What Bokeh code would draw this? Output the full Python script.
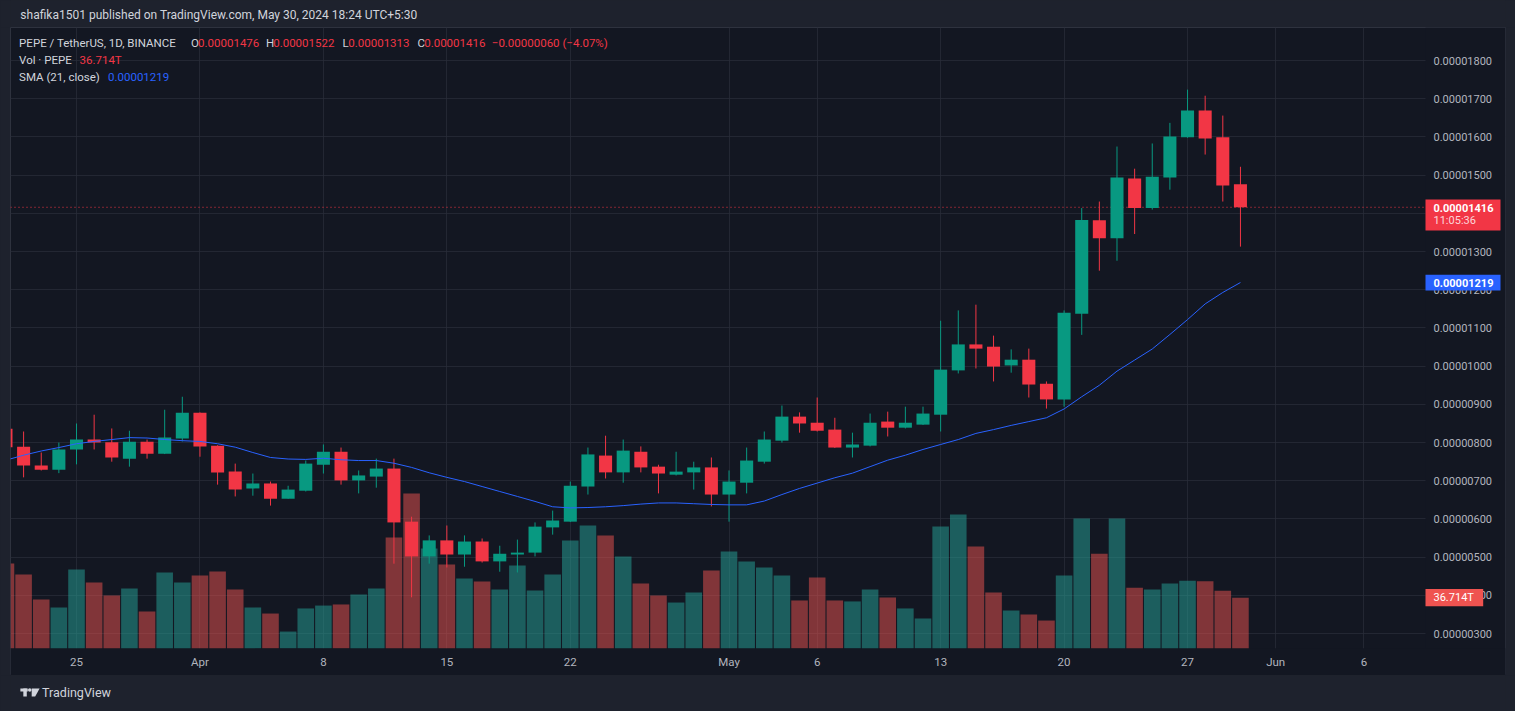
import numpy as np
import pandas as pd
from bokeh.plotting import figure
from bokeh.layouts import column
from bokeh.models import (Range1d, FixedTicker, PrintfTickFormatter, Label, Span,
                          BoxAnnotation, ColumnDataSource)
from bokeh.embed import file_html
from bokeh.resources import INLINE

# ---------------- data (prices in units of 1e-8 USDT) ----------------
dates = pd.date_range("2024-03-21", "2024-05-30", freq="D")
open_ = [836, 789, 740, 729, 782, 808, 801, 758, 802, 771, 811, 878, 792, 724, 680, 693, 653, 674, 742, 776,
         701, 711, 732, 593, 502, 544, 507, 541, 489, 507, 512, 578, 593, 685, 766, 722, 776, 737, 716, 722,
         735, 664, 695, 750, 805, 868, 852, 834, 787, 792, 855, 839, 847, 873, 989, 1057, 1051, 1002, 1017, 954,
         913, 1137, 1382, 1335, 1491, 1414, 1494, 1599, 1669, 1599, 1476]
high = [845, 829, 774, 800, 850, 873, 837, 831, 808, 886, 920, 879, 793, 745, 719, 698, 687, 753, 795, 787,
        727, 758, 758, 606, 557, 583, 557, 549, 530, 546, 591, 622, 698, 787, 818, 808, 790, 742, 776, 750,
        761, 727, 787, 829, 897, 879, 918, 865, 826, 876, 881, 894, 894, 1119, 1146, 1161, 1080, 1044, 1046, 960,
        1146, 1414, 1431, 1575, 1517, 1583, 1637, 1724, 1708, 1656, 1522]
low = [782, 709, 727, 720, 743, 782, 750, 737, 758, 770, 803, 763, 690, 659, 661, 635, 653, 672, 719, 690,
       667, 682, 483, 395, 483, 473, 475, 486, 462, 460, 502, 559, 592, 664, 706, 695, 722, 667, 714, 677,
       633, 593, 667, 745, 800, 826, 829, 786, 761, 790, 816, 837, 846, 829, 981, 994, 960, 983, 918, 889,
       894, 1082, 1250, 1276, 1346, 1410, 1462, 1598, 1554, 1431, 1313]
close = [788, 740, 729, 782, 808, 800, 761, 802, 771, 813, 878, 790, 722, 677, 693, 653, 677, 745, 776, 701,
         714, 732, 591, 502, 544, 507, 541, 489, 509, 512, 580, 596, 687, 769, 722, 779, 735, 719, 724, 735,
         664, 698, 753, 808, 868, 850, 831, 787, 795, 852, 839, 852, 876, 991, 1057, 1046, 999, 1017, 952, 913,
         1140, 1383, 1335, 1494, 1414, 1496, 1601, 1669, 1596, 1473, 1416]
volume_T = [61.6, 53.6, 35.4, 29.6, 57.2, 47.8, 38.3, 43.4, 26.7, 55.0, 47.8, 52.9, 55.8, 42.7, 29.6, 25.2,
            12.1, 28.9, 31.0, 31.8, 39.0, 43.4, 80.5, 112.5, 72.5, 60.8, 50.7, 48.5, 42.7, 60.1, 41.9, 53.6,
            78.3, 89.2, 81.9, 66.7, 47.0, 38.3, 33.2, 40.5, 56.5, 70.3, 63.0, 58.7, 52.9, 34.7, 51.4, 34.7,
            34.0, 42.7, 36.9, 28.9, 21.6, 88.5, 97.2, 73.9, 40.5, 27.4, 24.5, 20.1, 52.9, 94.3, 68.7, 94.3,
            44.0, 42.6, 47.0, 49.1, 48.6, 41.8, 36.714]
sma21 = [754, 767, 778, 787, 797, 803, 808, 813, 812, 808, 805, 803, 797, 788, 774, 761, 757, 756, 759, 755,
         753, 753, 746, 735, 721, 709, 698, 685, 672, 659, 646, 632, 629, 630, 632, 635, 639, 642, 642, 640,
         638, 637, 637, 647, 664, 680, 694, 708, 720, 737, 754, 767, 782, 795, 808, 824, 834, 845, 855, 865,
         888, 920, 950, 987, 1016, 1045, 1083, 1122, 1163, 1193, 1219]
price_ticks = [300, 400, 500, 600, 700, 800, 900, 1000, 1100, 1200, 1300, 1400, 1500, 1600, 1700, 1800]
time_tick_dates = ["2024-03-25", "2024-04-01", "2024-04-08", "2024-04-15", "2024-04-22", "2024-05-01",
                   "2024-05-06", "2024-05-13", "2024-05-20", "2024-05-27", "2024-06-01", "2024-06-06"]
time_tick_labels = ["25", "Apr", "8", "15", "22", "May", "6", "13", "20", "27", "Jun", "6"]

SC = 1e-8
# ---------------- styling ----------------
OUTER = "#1e222d"
PANE = "#131722"
GRID = "#2a2e39"
BORDER = "#2e323e"
TXT = "#d1d4dc"
AXT = "#b2b5be"
UP = "#089981"
DN = "#f23645"
VUP = "#26a69a"
VDN = "#ef5350"
FONT = "Roboto"
W = 1515

x = np.array([(d - dates[0]).days for d in dates], dtype=float)
o = np.array(open_) * SC
h = np.array(high) * SC
l = np.array(low) * SC
c = np.array(close) * SC
up = c >= o
src = ColumnDataSource(dict(
    x=x, o=o, h=h, l=l, c=c,
    top=np.maximum(o, c), bot=np.minimum(o, c),
    col=[UP if u else DN for u in up],
    vcol=[VUP if u else VDN for u in up],
    vol=volume_T, sma=np.array(sma21) * SC,
))

# ---------------- main chart pane (frame = whole pane) ----------------
FW, FH = 1495, 648          # pane size in px
PLOT_W, PLOT_H = 1415, 620.7  # candle area inside pane
p = figure(width=W, height=FH, x_range=Range1d(0.257, 85.03),
           y_range=Range1d(190.3 * SC, 1886.6 * SC),
           output_backend="svg", toolbar_location=None, y_axis_location="right",
           min_border_left=10, min_border_right=10, min_border_top=0, min_border_bottom=0,
           background_fill_color=PANE, border_fill_color=OUTER,
           outline_line_color=BORDER, outline_line_width=1)
p.extra_y_ranges = {"vol": Range1d(-19.85, 451.25), "py": Range1d(FH, 0)}
p.extra_x_ranges = {"px": Range1d(0, FW)}

yt = FixedTicker(ticks=[t * SC for t in price_ticks])
p.yaxis.ticker = yt
p.yaxis.formatter = PrintfTickFormatter(format="%.8f")
tick_x = [float((pd.Timestamp(d) - dates[0]).days) for d in time_tick_dates]
xt = FixedTicker(ticks=tick_x)
p.xaxis.ticker = xt
p.xaxis.major_label_overrides = {tx: lb for tx, lb in zip(tick_x, time_tick_labels)}
for ax in (p.xaxis[0], p.yaxis[0]):
    ax.axis_line_color = None
    ax.major_tick_line_color = None
    ax.minor_tick_line_color = None
    ax.major_tick_out = 0
    ax.major_tick_in = 0
    ax.minor_tick_out = 0
    ax.minor_tick_in = 0
    ax.major_label_text_color = AXT
    ax.major_label_text_font = FONT
p.yaxis.major_label_text_font_size = "11px"
p.xaxis.major_label_text_font_size = "11.5px"
p.yaxis.major_label_standoff = -72
p.xaxis.major_label_standoff = -21
p.xgrid.ticker = xt
p.ygrid.ticker = yt
p.grid.grid_line_color = GRID
p.grid.grid_line_alpha = 0.75

# last price line (under the price-scale cover)
p.add_layout(Span(location=c[-1], dimension="width", line_color=DN, line_width=1,
                  line_dash="1 3", level="underlay"))
# price scale and time scale areas (no grid there)
p.add_layout(BoxAnnotation(left=PLOT_W, right=FW, top=0, bottom=FH, x_range_name="px", y_range_name="py",
                           fill_color=PANE, fill_alpha=1.0, line_color=None, level="underlay"))
p.add_layout(BoxAnnotation(left=0, right=FW, top=PLOT_H, bottom=FH, x_range_name="px", y_range_name="py",
                           fill_color=PANE, fill_alpha=1.0, line_color=None, level="underlay"))

# volume
p.vbar(x="x", top="vol", bottom=0, width=0.94, source=src, y_range_name="vol",
       fill_color="vcol", fill_alpha=0.5, line_color=None)
# candles
p.segment(x0="x", y0="h", x1="x", y1="l", source=src, line_color="col", line_width=1)
p.vbar(x="x", top="top", bottom="bot", width=0.74, source=src, fill_color="col", line_color=None)
# SMA
p.line(x="x", y="sma", source=src, line_color="#2962ff", line_width=1)

def lab(text, fx, fy, color=TXT, size="11.5px", style="normal", alpha=1.0):
    p.add_layout(Label(x=fx, y=fy, text=text, x_range_name="px", y_range_name="py",
                       text_color=color, text_font=FONT, text_font_size=size, text_font_style=style,
                       text_alpha=alpha, text_baseline="middle", text_align="left"))

# legend lines
lab("PEPE / TetherUS, 1D, BINANCE", 8.6, 15)
lab("O", 180.5, 15); lab("0.00001476", 187.6, 15, DN)
lab("H", 255.6, 15); lab("0.00001522", 262.7, 15, DN)
lab("L", 332.0, 15); lab("0.00001313", 337.8, 15, DN)
lab("C", 407.0, 15); lab("0.00001416", 413.7, 15, DN)
lab("\u22120.00000060 (\u22124.07%)", 481.3, 15, DN)
lab("Vol \u00b7 PEPE", 8.6, 32.3); lab("36.714T", 69.0, 32.3, DN)
lab("SMA (21, close)", 8.6, 49); lab("0.00001219", 97.5, 49, "#2962ff")

# price scale markers
def box(l_, r_, t_, b_, color):
    p.add_layout(BoxAnnotation(left=l_, right=r_, top=t_, bottom=b_, x_range_name="px", y_range_name="py",
                               fill_color=color, fill_alpha=1.0, line_color=None, level="annotation"))
box(PLOT_W, PLOT_W + 75, 172, 203, DN)
lab("0.00001416", PLOT_W + 8, 180.7, "#ffffff", size="11px", style="bold")
lab("11:05:36", PLOT_W + 8, 192.5, "#ffffff", size="11px", alpha=0.8)
box(PLOT_W, PLOT_W + 75, 247.3, 263, "#2962ff")
lab("0.00001219", PLOT_W + 8, 255.3, "#ffffff", size="11px", style="bold")
box(PLOT_W, PLOT_W + 57.7, 561.4, 578.7, VDN)
lab("36.714T", PLOT_W + 8, 570, "#ffffff", size="11px")

# ---------------- header / footer ----------------
hdr = figure(width=W, height=27, x_range=Range1d(0, W), y_range=Range1d(27, 0),
             output_backend="svg", toolbar_location=None, x_axis_location=None, y_axis_location=None,
             min_border=0, background_fill_color=OUTER, border_fill_color=OUTER, outline_line_color=None)
hdr.grid.visible = False
hdr.add_layout(Label(x=10, y=14, text="shafika1501 published on TradingView.com, May 30, 2024 18:24 UTC+5:30",
                     text_color=TXT, text_font=FONT, text_font_size="12px", text_baseline="middle"))

ftr = figure(width=W, height=36, x_range=Range1d(0, W), y_range=Range1d(36, 0),
             output_backend="svg", toolbar_location=None, x_axis_location=None, y_axis_location=None,
             min_border=0, background_fill_color=OUTER, border_fill_color=OUTER, outline_line_color=None)
ftr.grid.visible = False
# TradingView logo
ftr.quad(left=[10, 13], right=[17.5, 16.5], top=[13, 13], bottom=[16, 21], fill_color=TXT, line_color=None)
ftr.scatter(x=[19.5], y=[14.5], size=3.5, fill_color=TXT, line_color=None)
ftr.patch(x=[21.5, 29.5, 25, 21.5], y=[13, 13, 21, 21], fill_color=TXT, line_color=None)
ftr.add_layout(Label(x=32, y=17, text="TradingView", text_color=TXT, text_font=FONT,
                     text_font_size="12.5px", text_baseline="middle"))

layout = column(hdr, p, ftr, spacing=0)
html = file_html(layout, INLINE)
html = html.replace("</head>", "<style>html, body { background-color: %s; }</style></head>" % OUTER, 1)
open("out.html", "w").write(html)
